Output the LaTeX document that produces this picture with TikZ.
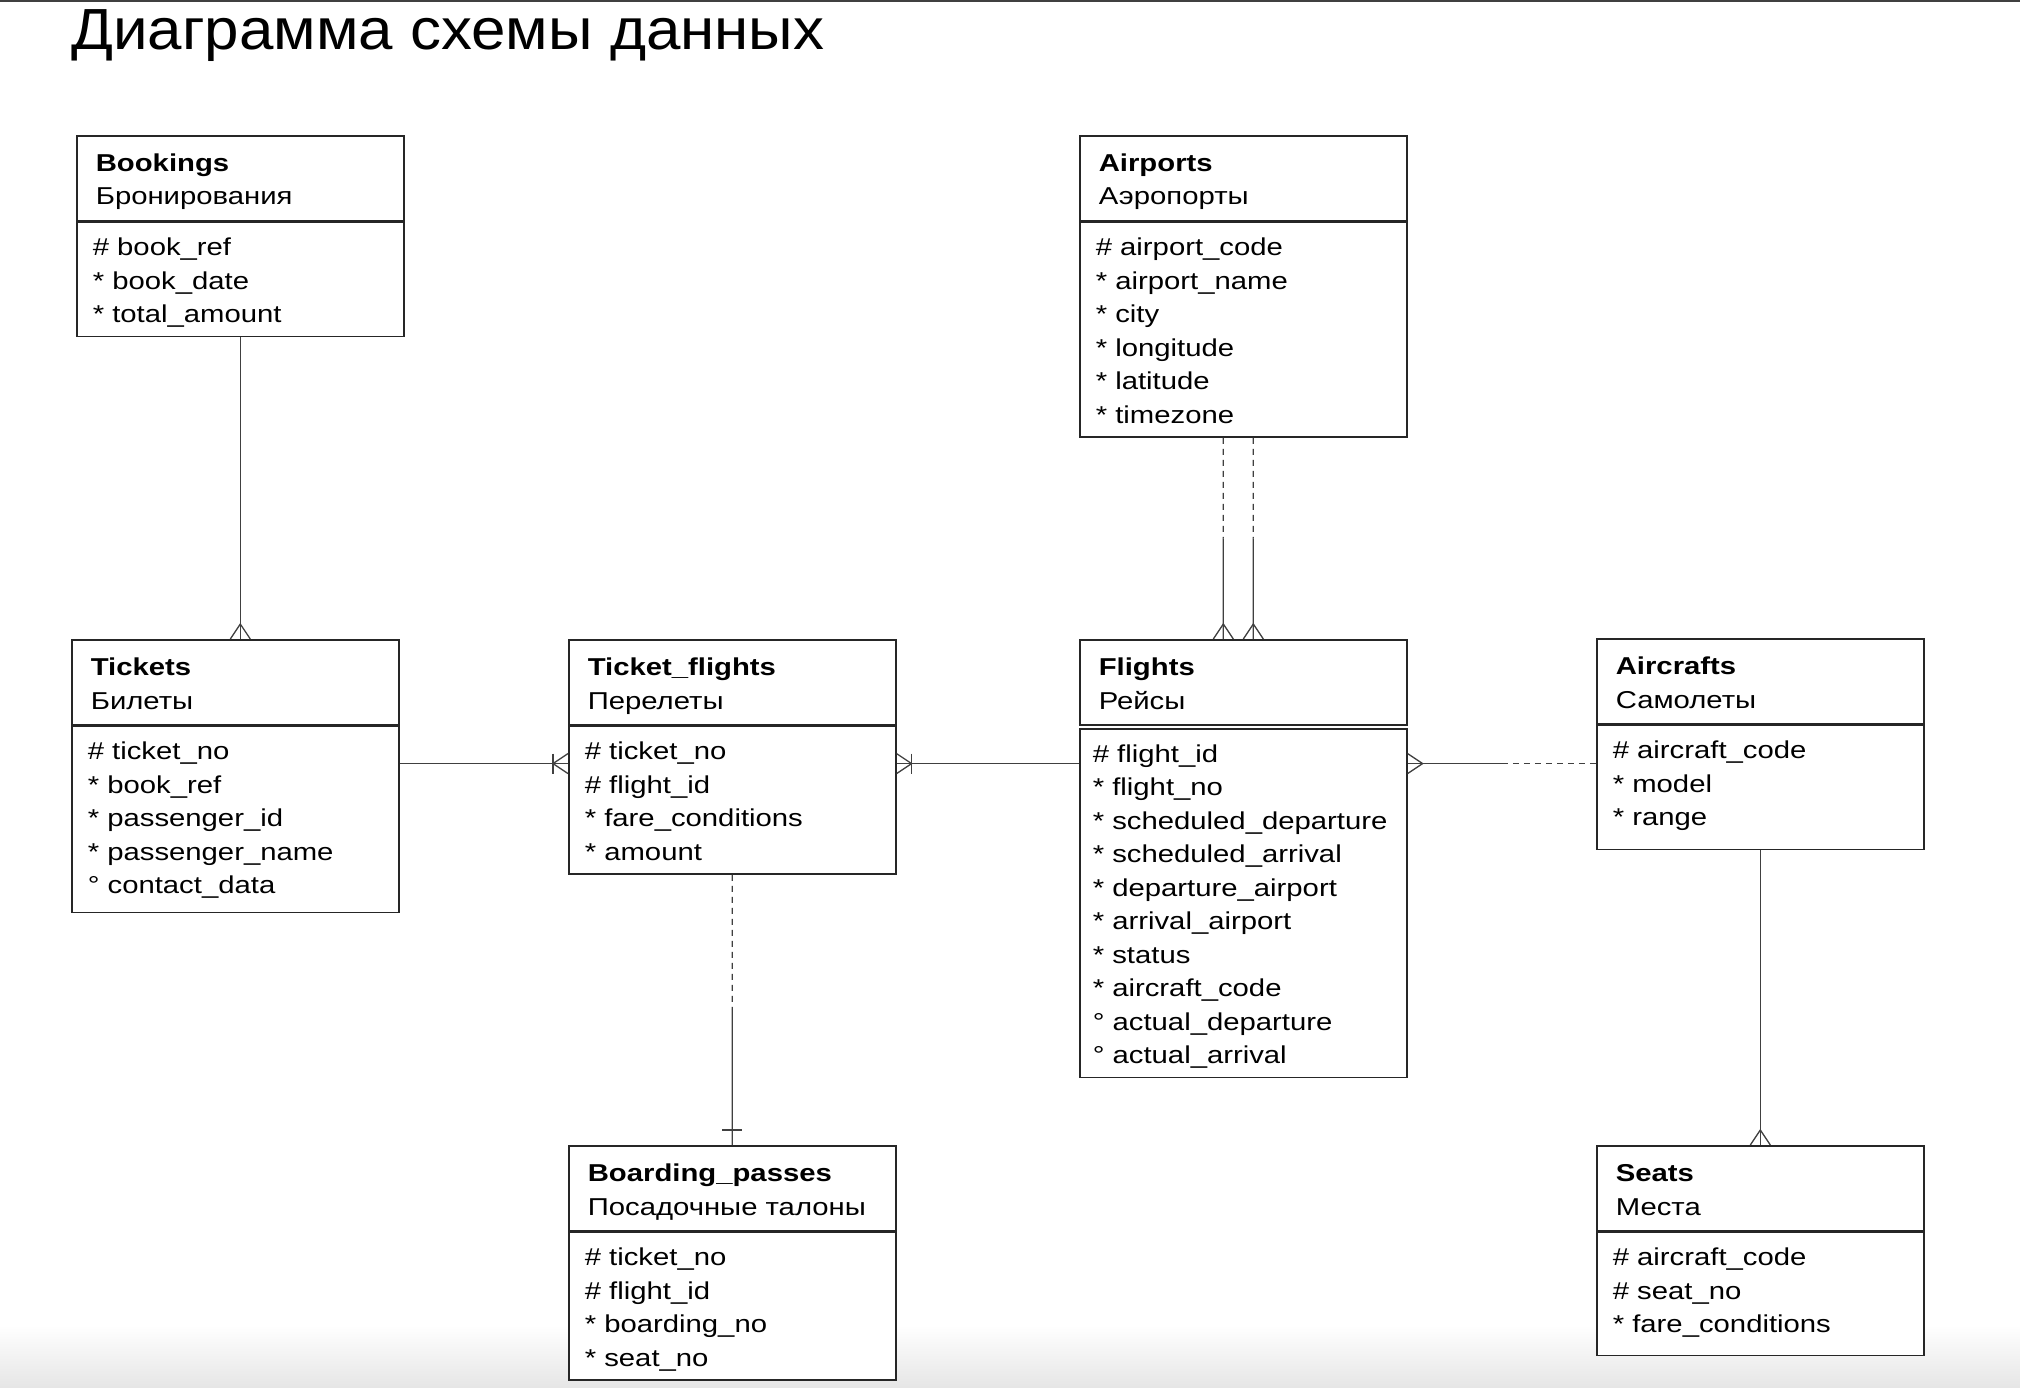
\documentclass[tikz,border=0pt]{standalone}
\usepackage{fontspec}
\setmainfont{Liberation Sans}[FakeStretch=1.2]
\newfontfamily\titlefont{Liberation Sans}[FakeStretch=1.067]
\usetikzlibrary{calc}
\tikzset{
  ent/.style={draw=black!85, line width=1.6pt, fill=white, anchor=north west, align=left, minimum width=327pt, inner ysep=0pt, font=\fontsize{24.4pt}{33.5pt}\selectfont},
  hdr/.style={ent, inner xsep=19pt, text width=289pt, text height=35.7pt, text depth=49.3pt},
  attrs/.style={ent, inner xsep=16pt, text width=295pt, inner ysep=3.5pt, text height=30pt, execute at end node=\strut},
  rel/.style={draw=black!75, line width=1.3pt},
  opt/.style={rel, dash pattern=on 6pt off 5pt}
}
\begin{document}
\begin{tikzpicture}[x=1pt,y=-1pt]
\useasboundingbox (0,0) rectangle (2020,1388);
\shade[top color=white, bottom color=black!10] (0,1325) rectangle (2020,1388);
\draw[line width=2.5pt, black!75] (0,1) -- (2020,1);
\node[anchor=base west, inner sep=0pt, font=\titlefont\fontsize{58pt}{60pt}\selectfont] (title) at (71,50) {Диаграмма схемы данных};

\node[hdr] (bookings) at (76,135) {\textbf{Bookings}\\Бронирования};
\node[attrs] (bookings-body) at (bookings.south west) {\# book\_ref\\{*} book\_date\\{*} total\_amount};

\node[hdr] (airports) at (1079,135) {\textbf{Airports}\\Аэропорты};
\node[attrs] (airports-body) at (airports.south west) {\# airport\_code\\{*} airport\_name\\{*} city\\{*} longitude\\{*} latitude\\{*} timezone};

\node[hdr] (tickets) at (71,639) {\textbf{Tickets}\\Билеты};
\node[attrs, text depth=149pt] (tickets-body) at (tickets.south west) {\# ticket\_no\\{*} book\_ref\\{*} passenger\_id\\{*} passenger\_name\\° contact\_data};

\node[hdr] (tflights) at (568,639) {\textbf{Ticket\_flights}\\Перелеты};
\node[attrs] (tflights-body) at (tflights.south west) {\# ticket\_no\\\# flight\_id\\{*} fare\_conditions\\{*} amount};

\node[hdr] (flights) at (1079,639) {\textbf{Flights}\\Рейсы};
\node[attrs, inner xsep=13pt, text width=301pt] (flights-body) at ([yshift=-2.5pt]flights.south west) {\# flight\_id\\{*} flight\_no\\{*} scheduled\_departure\\{*} scheduled\_arrival\\{*} departure\_airport\\{*} arrival\_airport\\{*} status\\{*} aircraft\_code\\° actual\_departure\\° actual\_arrival};

\node[hdr] (aircrafts) at (1596,638) {\textbf{Aircrafts}\\Самолеты};
\node[attrs, text depth=87pt] (aircrafts-body) at (aircrafts.south west) {\# aircraft\_code\\{*} model\\{*} range};

\node[hdr] (bpasses) at (568,1145) {\textbf{Boarding\_passes}\\Посадочные талоны};
\node[attrs] (bpasses-body) at (bpasses.south west) {\# ticket\_no\\\# flight\_id\\{*} boarding\_no\\{*} seat\_no};

\node[hdr] (seats) at (1596,1145) {\textbf{Seats}\\Места};
\node[attrs, text depth=86pt] (seats-body) at (seats.south west) {\# aircraft\_code\\\# seat\_no\\{*} fare\_conditions};

\coordinate (bt) at (bookings-body.south |- tickets.north);
\draw[rel] (bookings-body.south) -- (bt);
\draw[rel] (bt) ++(-10,0) -- ++(10,-15) -- ++(10,15);

\foreach \dx in {-20,10} {
  \coordinate (top) at ($(airports-body.south)+(\dx,0)$);
  \coordinate (bot) at (top |- flights.north);
  \draw[opt] (top) -- ($(top)!.5!(bot)$);
  \draw[rel] ($(top)!.5!(bot)$) -- (bot);
  \draw[rel] (bot) ++(-10,0) -- ++(10,-15) -- ++(10,15);
}

\coordinate (tt) at ([yshift=-38pt]tickets-body.north east);
\coordinate (tf) at (tt -| tflights-body.west);
\draw[rel] (tt) -- (tf);
\draw[rel] (tf) ++(0,-10) -- ++(-15,10) -- ++(15,10);
\draw[rel] (tf) ++(-15,-10) -- ++(0,20);

\coordinate (ft) at (tt -| tflights-body.east);
\coordinate (ff) at (tt -| flights-body.west);
\draw[rel] (ft) -- (ff);
\draw[rel] (ft) ++(0,-10) -- ++(15,10) -- ++(-15,10);
\draw[rel] (ft) ++(15,-10) -- ++(0,20);

\coordinate (fa) at (tt -| flights-body.east);
\coordinate (af) at (tt -| aircrafts-body.west);
\draw[rel] (fa) -- ($(fa)!.5!(af)$);
\draw[opt] ($(fa)!.5!(af)$) -- (af);
\draw[rel] (fa) ++(0,-10) -- ++(15,10) -- ++(-15,10);

\coordinate (tb) at (tflights-body.south);
\coordinate (bp) at (tb |- bpasses.north);
\draw[opt] (tb) -- ($(tb)!.5!(bp)$);
\draw[rel] ($(tb)!.5!(bp)$) -- (bp);
\draw[rel] (bp) ++(-10,-15) -- ++(20,0);

\coordinate (as) at (aircrafts-body.south |- seats.north);
\draw[rel] (aircrafts-body.south) -- (as);
\draw[rel] (as) ++(-10,0) -- ++(10,-15) -- ++(10,15);
\end{tikzpicture}
\end{document}
